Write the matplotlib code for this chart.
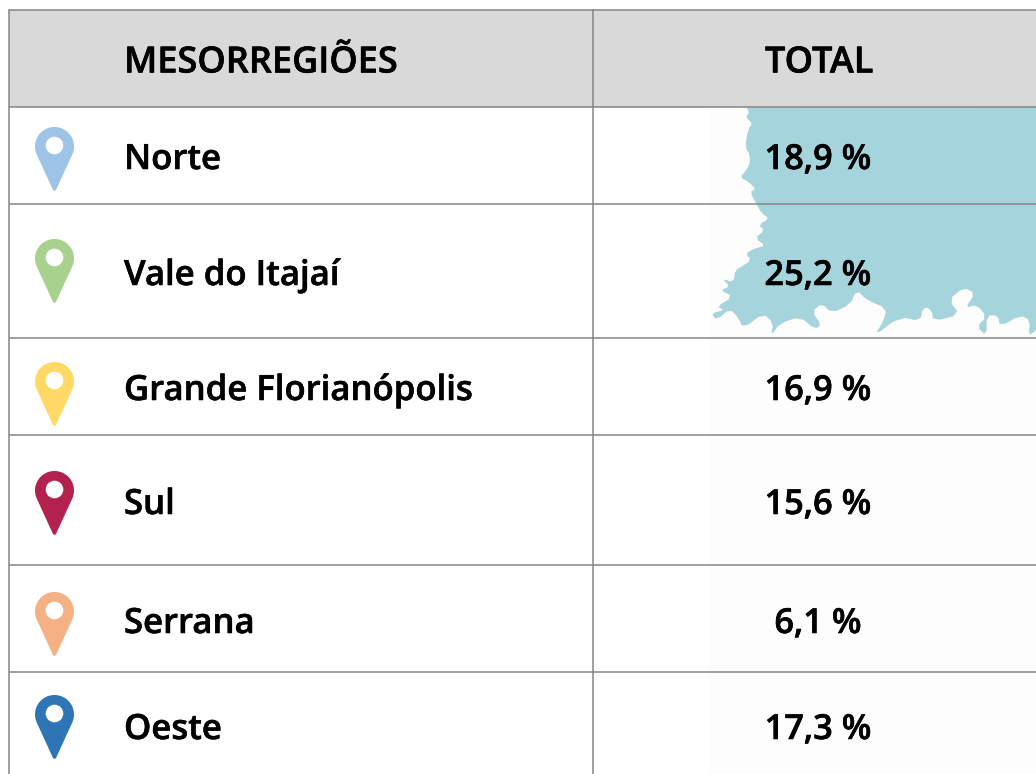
import numpy as np
import matplotlib
matplotlib.use("Agg")
import matplotlib.pyplot as plt
import matplotlib.patheffects as pe
from matplotlib.patches import Polygon, Circle, Rectangle
from matplotlib.font_manager import FontProperties

W = 1036
H = 774

headers = ["MESORREGIÕES", "TOTAL"]
regions = ["Norte", "Vale do Itajaí", "Grande Florianópolis", "Sul", "Serrana", "Oeste"]
totals = ["18,9 %", "25,2 %", "16,9 %", "15,6 %", "6,1 %", "17,3 %"]
pin_colors = ["#9dc3e6", "#a9d18e", "#ffd966", "#b3224f", "#f4b183", "#2e75b6"]
pin_tops = [127, 239, 362, 471, 592, 695]
text_rows = [156, 272, 387, 501, 620, 726]
row_lines = [10, 107, 204, 338, 435, 565, 672]

map_zoom = [(140,22),(148,40),(136,50),(158,72),(145,85),(135,140),(150,165),(148,195),(135,215),
            (120,232),(145,245),(168,268),(150,275),(168,310),(185,340),(208,355),(175,375),(194,390),
            (165,415),(197,437),(165,445),(136,460),(154,480),(125,500),(106,510),(100,548),(66,535),
            (90,560),(60,570),(99,590),(50,620),(74,630),(33,640),(50,660),(90,626),(115,654),(130,685),
            (190,640),(220,670),(213,708),(240,670),(300,650),(345,688),(364,674),(336,635),(365,610),
            (395,639),(450,614),(470,570),(500,600),(560,625),(550,665),(522,708),(600,650),(660,664),
            (670,620),(695,630),(700,664),(780,644),(746,600),(790,562),(826,580),(795,624),(830,614),
            (860,650),(830,680),(860,708),(860,646),(894,646),(900,680),(960,646),(990,660),(986,708),
            (1008,690)]

def smooth(points, rounds=1):
    pts = np.array(points, dtype=float)
    for i in range(rounds):
        a = pts[:-1]
        b = pts[1:]
        mid = np.empty((2*len(a), 2))
        mid[0::2] = 0.75*a + 0.25*b
        mid[1::2] = 0.25*a + 0.75*b
        pts = np.vstack([pts[:1], mid, pts[-1:]])
    return pts

def drawPin(ax, cx, top, color):
    r = 19.5
    cy = top + r
    tip = top + 64
    # tangent points from the tip to the round head, y axis points down
    ang = np.arccos(r/(tip - cy))
    t = np.linspace(np.pi/2 + ang, 2.5*np.pi - ang, 60)
    pts = np.column_stack([cx + r*np.cos(t), cy + r*np.sin(t)])
    pts = np.vstack([pts, [[cx + 1.5, tip - 1], [cx, tip], [cx - 1.5, tip - 1]]])
    ax.add_patch(Polygon(pts, closed=True, fc=color, ec="none", zorder=4))
    ax.add_patch(Circle((cx, cy - 1), 8.8, fc="white", ec="none", zorder=5))

fig = plt.figure(figsize=(W/100, H/100), dpi=100)
ax = fig.add_axes([0, 0, 1, 1])
ax.set_xlim(0, W)
ax.set_ylim(H, 0)
ax.axis("off")

ax.add_patch(Rectangle((9, 10), W - 9, 97, fc="#d9d9d9", ec="none", zorder=1))
ax.add_patch(Rectangle((710, 107), W - 710, H - 107, fc="#fdfdfd", ec="none", zorder=1))

mx = [x/3 + 700 for x, y in map_zoom]
my = [y/3 + 100 for x, y in map_zoom]
outline = smooth(list(zip(mx, my)))
outline = np.vstack([outline, [[W, 338], [W, 107]]])
ax.add_patch(Polygon(outline, closed=True, fc="#a6d4dd", ec="none", zorder=2))

line_color = "#858585"
for y in row_lines:
    ax.plot([9, W], [y, y], color=line_color, lw=1.1, zorder=3, solid_capstyle="butt")
ax.plot([9, 9], [10, H], color=line_color, lw=1.1, zorder=3)
ax.plot([593, 593], [10, H], color=line_color, lw=1.1, zorder=3)

head_font = FontProperties(family="Open Sans", weight=600, size=26)
body_font = FontProperties(family="Open Sans", weight=600, size=25)
num_font = FontProperties(family="Open Sans", weight=600, size=24.8)
# the reference text is a semibold, thicken it a bit
thick = [pe.withStroke(linewidth=0.4, foreground="black")]

ax.text(124, 59, headers[0], fontproperties=head_font, color="black", ha="left", va="center_baseline", zorder=6, path_effects=thick)
ax.text(819, 59, headers[1], fontproperties=head_font, color="black", ha="center", va="center_baseline", zorder=6, path_effects=thick)

for i in range(len(regions)):
    drawPin(ax, 54.5, pin_tops[i], pin_colors[i])
    ax.text(124, text_rows[i], regions[i], fontproperties=body_font, color="black", ha="left", va="center_baseline", zorder=6, path_effects=thick)
    ax.text(818, text_rows[i], totals[i], fontproperties=num_font, color="black", ha="center", va="center_baseline", zorder=6, path_effects=thick)

fig.savefig("out.png", dpi=100, facecolor="white")
